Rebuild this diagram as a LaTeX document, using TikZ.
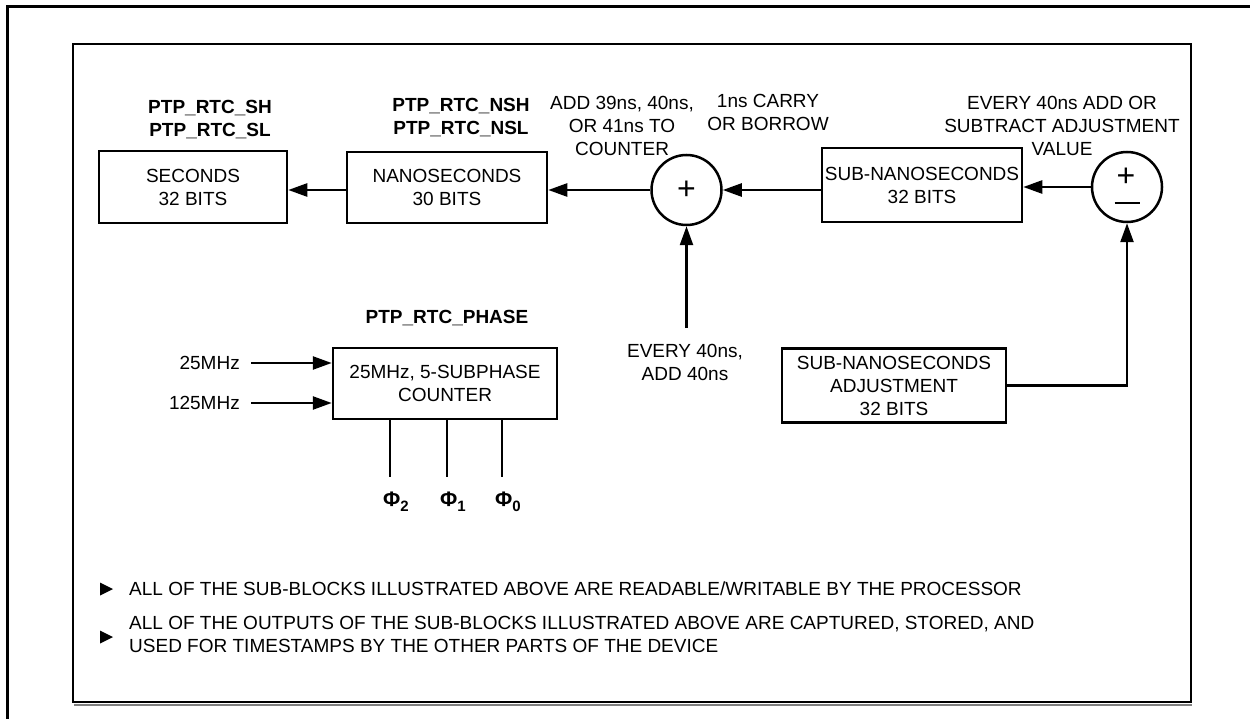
\documentclass[tikz,border=0pt]{standalone}
\usepackage{fontspec}
\setmainfont{Liberation Sans}
\usetikzlibrary{arrows.meta}
\begin{document}
\begin{tikzpicture}[x=1pt,y=-1pt,
  every node/.style={font=\fontsize{19}{23}\selectfont, inner sep=0pt},
  blk/.style={draw, line width=2.5pt, rectangle, align=center},
  sumc/.style={draw, line width=2.5pt, circle, minimum size=70pt},
  lbl/.style={align=center},
  ttl/.style={align=center, font=\fontsize{19}{23}\selectfont\bfseries},
  big/.style={font=\fontsize{32}{32}\selectfont},
  arr/.style={line width=2.5pt, -{Triangle[length=19pt,width=13pt]}},
  wire/.style={line width=2.5pt},
  phil/.style={font=\fontsize{21}{23}\selectfont\bfseries},
]
\useasboundingbox (0,0) rectangle (1250,719);
% frames
\draw[line width=3pt] (7.5,719) -- (7.5,6.5) -- (1250,6.5);
\draw[line width=2.5pt] (73,44) rectangle (1191,702);
\draw[line width=2pt, gray] (74,705) -- (1192,705);

% blocks
\node[blk, minimum width=188pt, minimum height=72pt] (sec) at (193,187) {SECONDS\\32 BITS};
\node[blk, minimum width=200pt, minimum height=71pt] (nano) at (447,187.5) {NANOSECONDS\\30 BITS};
\node[sumc, big] (plus) at (686.5,190) {+};
\node[blk, minimum width=200pt, minimum height=74pt] (subns) at (922,185) {SUB-NANOSECONDS\\32 BITS};
\node[sumc] (pm) at (1127,187) {};
\node[big] (pmplus) at (1126,177) {+};
\draw[line width=2.5pt] ([xshift=-12.5pt,yshift=-16pt]pm.center) -- ([xshift=12.5pt,yshift=-16pt]pm.center);
\node[blk, minimum width=224pt, minimum height=71pt] (ctr) at (445,383.5) {25MHz, 5-SUBPHASE\\COUNTER};
\node[blk, minimum width=224pt, minimum height=74pt] (sna) at (894,385.5) {SUB-NANOSECONDS\\ADJUSTMENT\\32 BITS};

% labels
\node[ttl] (tsec) at (210,119.5) {PTP\_RTC\_SH\\PTP\_RTC\_SL};
\node[ttl] (tnano) at (461,118) {PTP\_RTC\_NSH\\PTP\_RTC\_NSL};
\node[lbl] (tadd) at (622,125.5) {ADD 39ns, 40ns,\\OR 41ns TO\\COUNTER};
\node[lbl] (tcarry) at (768,112) {1ns CARRY\\OR BORROW};
\node[lbl] (tevery) at (1062,126) {EVERY 40ns ADD OR\\SUBTRACT ADJUSTMENT\\VALUE};
\node[ttl] (tphase) at (447,318) {PTP\_RTC\_PHASE};
\node[lbl] (t40) at (685,362) {EVERY 40ns,\\ADD 40ns};

% connectors
\draw[arr] (plus.west) -- (plus.west -| nano.east);
\coordinate (a1) at (nano.west |- plus.west);
\draw[arr] (a1) -- (a1 -| sec.east);
\draw[arr] (subns.west |- plus.east) -- (plus.east);
\draw[arr] (pm.west) -- (pm.west -| subns.east);
\coordinate (u0) at (686.5,328);
\draw[arr] (u0) -- (plus.south);
\draw[arr] (sna.east) -| (pm.south);

% counter inputs
\coordinate (i25) at (251,363);
\coordinate (i125) at (251,403);
\draw[arr] (i25) -- (i25 -| ctr.west);
\draw[arr] (i125) -- (i125 -| ctr.west);
\node[anchor=east] (l25) at (240,363) {25MHz};
\node[anchor=east] (l125) at (240,403) {125MHz};

% phase outputs
\coordinate (p2) at (390,477);
\coordinate (p1) at (447,477);
\coordinate (p0) at (502,477);
\draw[wire] (p2 |- ctr.south) -- (p2);
\draw[wire] (p1 |- ctr.south) -- (p1);
\draw[wire] (p0 |- ctr.south) -- (p0);
\node[phil] (f2) at (396,502) {Φ\raisebox{-5pt}{\fontsize{15}{15}\selectfont 2}};
\node[phil] (f1) at (453,502) {Φ\raisebox{-5pt}{\fontsize{15}{15}\selectfont 1}};
\node[phil] (f0) at (508,502) {Φ\raisebox{-5pt}{\fontsize{15}{15}\selectfont 0}};

% notes
\fill (100,582.5) -- (113,589) -- (100,595.5) -- cycle;
\fill (100,630.5) -- (113,637) -- (100,643.5) -- cycle;
\node[anchor=west] (bt1) at (129,589) {ALL OF THE SUB-BLOCKS ILLUSTRATED ABOVE ARE READABLE/WRITABLE BY THE PROCESSOR};
\node[anchor=west, align=left] (bt2) at (129,634.5) {ALL OF THE OUTPUTS OF THE SUB-BLOCKS ILLUSTRATED ABOVE ARE CAPTURED, STORED, AND\\USED FOR TIMESTAMPS BY THE OTHER PARTS OF THE DEVICE};
\end{tikzpicture}
\end{document}
